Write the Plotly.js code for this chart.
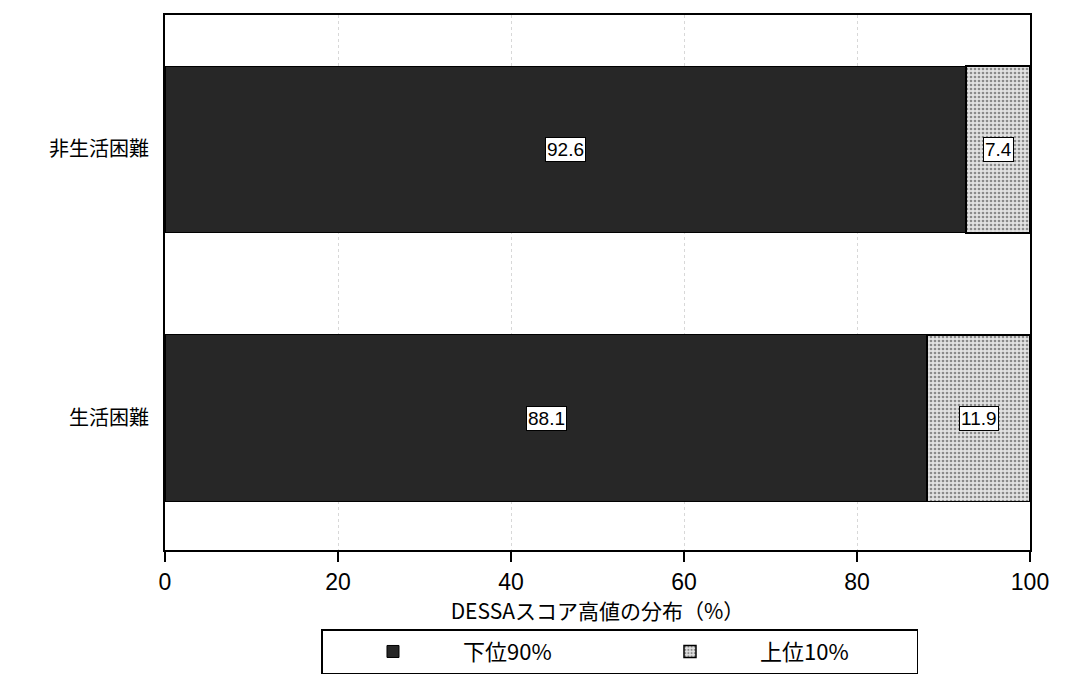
<!DOCTYPE html>
<html><head><meta charset="utf-8">
<script src="https://cdn.plot.ly/plotly-3.0.1.min.js"></script>
<style>body{margin:0;background:#fff}</style>
</head><body>
<div id="chart" style="width:1067px;height:689px"></div>
<script>
const categories = ["生活困難", "非生活困難"];
const lower90 = [88.1, 92.6];
const upper10 = [11.9, 7.4];
const seriesNames = ["下位90%", "上位10%"];
const xTicks = [0, 20, 40, 60, 80, 100];

const FONT = "Liberation Sans, Arial, Noto Sans CJK JP, sans-serif";

const traces = [
  {type: "bar", orientation: "h", name: seriesNames[0], y: categories, x: lower90,
   width: 0.62, marker: {color: "#272727", line: {color: "#000", width: 1}}, hoverinfo: "x"},
  {type: "bar", orientation: "h", name: seriesNames[1], y: categories, x: upper10,
   width: 0.62, marker: {color: "#d6d6d6", line: {color: "#000", width: 1.5},
     pattern: {shape: ".", fgcolor: "#8a8a8a", bgcolor: "#e2e2e2", size: 4, solidity: 0.35}}, hoverinfo: "x"}
];

const annotations = [];
categories.forEach((c, i) => {
  annotations.push({x: lower90[i] / 2, y: c, xref: "x", yref: "y", text: lower90[i].toFixed(1),
    showarrow: false, bgcolor: "#fff", bordercolor: "#000", borderwidth: 1, borderpad: 1,
    font: {family: FONT, size: 19, color: "#000"}});
  annotations.push({x: lower90[i] + upper10[i] / 2, y: c, xref: "x", yref: "y", text: upper10[i].toFixed(1),
    showarrow: false, bgcolor: "#fff", bordercolor: "#000", borderwidth: 1, borderpad: 1,
    font: {family: FONT, size: 19, color: "#000"}});
});

const layout = {
  width: 1067, height: 689,
  margin: {l: 165, r: 37, t: 15, b: 139},
  barmode: "stack",
  paper_bgcolor: "#fff", plot_bgcolor: "#fff",
  font: {family: FONT, color: "#000"},
  showlegend: true,
  legend: {orientation: "h", x: 0.526, xanchor: "center", y: -0.148, yanchor: "top",
    bordercolor: "#000", borderwidth: 1.5, font: {family: "Noto Sans CJK JP, sans-serif", size: 22},
    itemwidth: 130, traceorder: "normal", entrywidth: 152},
  xaxis: {range: [0, 100], tickvals: xTicks, ticktext: xTicks.map(String), ticks: "outside", ticklen: 10,
    tickcolor: "#000", tickwidth: 1.5, showline: true, linecolor: "#000", linewidth: 2, mirror: true,
    showgrid: true, gridcolor: "#d8d8d8", griddash: "dot", gridwidth: 1, zeroline: false,
    tickfont: {family: FONT, size: 23},
    title: {text: "DESSAスコア高値の分布（%）", standoff: 0, font: {family: "Noto Sans CJK JP, sans-serif", size: 21}}},
  yaxis: {range: [-0.49, 1.5], showline: true, linecolor: "#000", linewidth: 2, mirror: true,
    ticks: "", showgrid: false, zeroline: false, ticklabelstandoff: 10,
    tickfont: {family: "Noto Sans CJK JP, sans-serif", size: 20}},
  annotations: annotations
};

Plotly.newPlot("chart", traces, layout, {displayModeBar: false, staticPlot: true});
</script>
</body></html>
